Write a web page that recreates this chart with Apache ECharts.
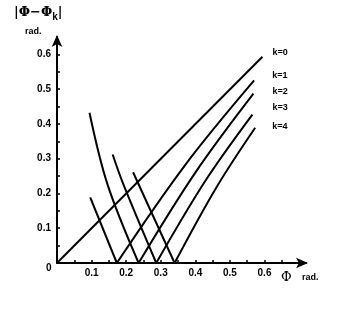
<!DOCTYPE html>
<html><head><meta charset="utf-8">
<script src="https://cdn.jsdelivr.net/npm/echarts@6/dist/echarts.min.js"></script>
<style>html,body{margin:0;padding:0;background:#fff}#c{width:354px;height:313px}</style>
</head><body><div id="c"></div>
<script>
// Data: falling (left) and rising (right) branch of each |Φ−Φk| curve
const seriesNames = ['k=0','k=1','k=2','k=3','k=4'];
const k0Right = [[0,0],[0.594,0.593]];
const k1Left  = [[0.096,0.189],[0.173,0]];
const k1Right = [[0.173,0],[0.37,0.281],[0.570,0.525]];
const k2Left  = [[0.094,0.432],[0.146,0.226],[0.236,0]];
const k2Right = [[0.236,0],[0.40,0.260],[0.568,0.487]];
const k3Left  = [[0.161,0.312],[0.192,0.226],[0.287,0]];
const k3Right = [[0.287,0],[0.43,0.238],[0.565,0.427]];
const k4Left  = [[0.220,0.261],[0.340,0]];
const k4Right = [[0.340,0],[0.46,0.216],[0.573,0.389]];
const leftBranches  = [null, k1Left, k2Left, k3Left, k4Left];
const rightBranches = [k0Right, k1Right, k2Right, k3Right, k4Right];
const xMax = 0.72, yMax = 0.65, tickStep = 0.05, lastLabel = 0.6;

// styles
const FONT = '"Liberation Sans", Arial, sans-serif';
const SERIF = '"DejaVu Serif", "Liberation Serif", serif';
const labelOffsets = [[10,-4],[18,-5],[19,-2],[20,-7],[17,-1]];

const chart = echarts.init(document.getElementById('c'), null, {renderer:'canvas'});
const fmt = v => { const r = Math.round(v*100); return (r !== 0 && r % 10 === 0 && v <= lastLabel + 1e-9) ? (r/100).toFixed(1) : ''; };
const lineAxis = {show:true, onZero:false, symbol:['none','arrow'], symbolSize:[8,12], symbolOffset:[0,2], lineStyle:{color:'#000', width:2}};
const axisCommon = {
  axisLine:lineAxis,
  axisTick:{show:true, inside:true, length:3, lineStyle:{color:'#000', width:1.5}},
  splitLine:{show:false}
};
const lbl = m => ({color:'#000', fontFamily:FONT, fontWeight:'bold', fontSize:10, formatter:fmt, showMaxLabel:false, showMinLabel:false, margin:m});
const series = [];
rightBranches.forEach((d,i)=>{
  series.push({name:seriesNames[i], type:'line', data:d, showSymbol:false, symbol:'none', smooth:0.35,
    lineStyle:{color:'#000', width:2}, z:3,
    endLabel:{show:true, formatter:seriesNames[i], color:'#000', fontFamily:FONT, fontWeight:'bold', fontSize:9,
      distance:0, offset:labelOffsets[i], align:'left', verticalAlign:'middle'}});
  if (leftBranches[i]) series.push({name:seriesNames[i]+' left', type:'line', data:leftBranches[i], showSymbol:false, symbol:'none', smooth:0.35,
    lineStyle:{color:'#000', width:2}, z:3});
});
chart.setOption({
  animation:false,
  grid:{left:57, top:37, width:249, height:226, containLabel:false},
  xAxis: Object.assign({}, axisCommon, {type:'value', min:0, max:xMax, interval:tickStep, axisLabel:lbl(5)}),
  yAxis: Object.assign({}, axisCommon, {type:'value', min:0, max:yMax, interval:tickStep, axisLabel:lbl(6)}),
  series: series,
  graphic:[
    {type:'text', left:14, top:6, style:{rich:{
        a:{fontFamily:SERIF, fontSize:13, fontWeight:'bold', fill:'#000'},
        b:{fontFamily:FONT, fontWeight:'bold', fontSize:10, fill:'#000', padding:[9,0,0,0]}
      }, text:'{a||Φ−Φ}{b|k}{a||}'}},
    {type:'text', left:25, top:27, style:{text:'rad.', fontFamily:FONT, fontWeight:'bold', fontSize:9, fill:'#000'}},
    {type:'text', left:46, top:263, style:{text:'0', fontFamily:FONT, fontWeight:'bold', fontSize:10, fill:'#000'}},
    {type:'text', left:281, top:271, style:{text:'Φ', fontFamily:SERIF, fontSize:13, fill:'#000'}},
    {type:'text', left:302, top:273, style:{text:'rad.', fontFamily:FONT, fontWeight:'bold', fontSize:9, fill:'#000'}}
  ]
});
</script></body></html>
